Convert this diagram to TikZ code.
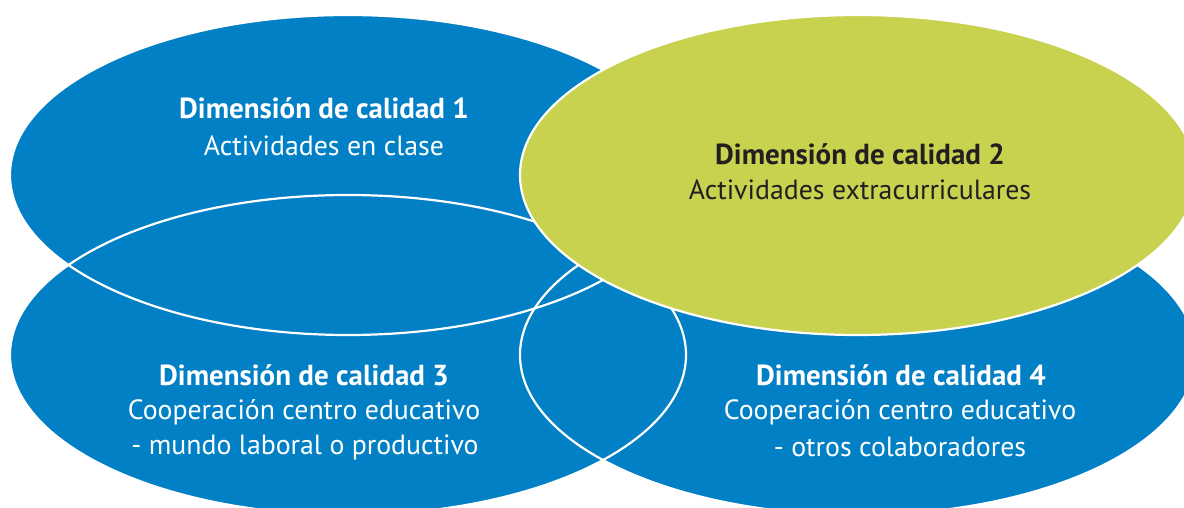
\documentclass[tikz,border=0pt]{standalone}
\usepackage{fontspec}
\setmainfont{PT Sans}
\definecolor{dblue}{RGB}{2,128,198}
\definecolor{dgreen}{RGB}{200,210,78}
\definecolor{dtext}{RGB}{35,31,32}
\begin{document}
\begin{tikzpicture}[x=1pt,y=-1pt,
  blobfill/.style={fill=dblue},
  blobline/.style={draw=white,line width=2.2pt},
  title/.style={font=\fontsize{29}{34}\selectfont\bfseries},
  body/.style={font=\fontsize{27.8}{33}\selectfont},
  lbl/.style={align=center,text=white,inner sep=0pt,anchor=center}]
\useasboundingbox (0,0) rectangle (1184,508);
\clip (0,0) rectangle (1184,508);
\coordinate (c1) at (348,175);
\coordinate (c2) at (858,175);
\coordinate (c3) at (348,355);
\coordinate (c4) at (858,355);
\tikzset{rad/.style={x radius=338pt,y radius=160pt}}
% blue fills
\fill[blobfill] (c3) ellipse [rad];
\fill[blobfill] (c4) ellipse [rad];
\fill[blobfill] (c1) ellipse [rad];
% white outlines
\draw[blobline] (c3) ellipse [rad];
\draw[blobline] (c4) ellipse [rad];
\draw[blobline] (c1) ellipse [rad];
% green ellipse
\draw[blobline,fill=dgreen] (c2) ellipse [rad];
% texts
\node[lbl,title] (t1) at (324,108) {Dimensión de calidad 1};
\node[lbl,body] (s1) at (324,146) {Actividades en clase};
\node[lbl,title,text=dtext] (t2) at (860,154) {Dimensión de calidad 2};
\node[lbl,body,text=dtext] (s2) at (860,190) {Actividades extracurriculares};
\node[lbl,title] (t3) at (304,375) {Dimensión de calidad 3};
\node[lbl,body] (s3) at (304,412) {Cooperación centro educativo};
\node[lbl,body] (u3) at (305,447) {- mundo laboral o productivo};
\node[lbl,title] (t4) at (901,375) {Dimensión de calidad 4};
\node[lbl,body] (s4) at (900,412) {Cooperación centro educativo};
\node[lbl,body] (u4) at (900,447) {- otros colaboradores};
\end{tikzpicture}
\end{document}
